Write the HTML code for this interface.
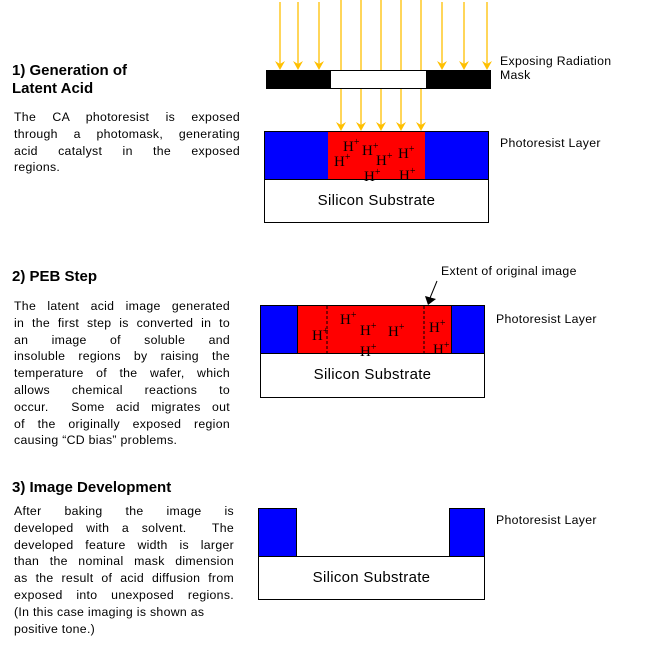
<!DOCTYPE html>
<html><head><meta charset="utf-8"><style>
body{margin:0;width:649px;height:649px;background:#fff;position:relative;overflow:hidden;font-family:"Liberation Sans",sans-serif;color:#000}
.h{position:absolute;font-size:15px;font-weight:bold;left:12px;line-height:18px}
.p{position:absolute;left:14px;width:226px;font-size:12.3px;line-height:16.8px;letter-spacing:0.3px}
.p div{text-align:justify;text-align-last:justify;white-space:nowrap;height:16.8px}
.p div.l{text-align-last:left}
.lb{position:absolute;font-size:12.3px;line-height:14px;letter-spacing:0.3px}
.b{position:absolute;box-sizing:border-box}
.hp{position:absolute;font-family:"Liberation Serif",serif;font-size:15px;line-height:15px}
.hp sup{font-size:10px;vertical-align:6px}
.sub{font-size:15px;text-align:center;line-height:43px;letter-spacing:0.3px}
</style></head><body>
<div class="h" style="top:62px">1) Generation of<br>Latent Acid</div>
<div class="p" style="top:109px;width:226px">
<div>The CA photoresist is exposed</div><div>through a photomask, generating</div><div>acid catalyst in the exposed</div><div class="l">regions.</div></div>
<div class="h" style="top:268px">2) PEB Step</div>
<div class="p" style="top:298px;width:216px">
<div>The latent acid image generated</div><div>in the first step is converted in to</div><div>an image of soluble and</div><div>insoluble regions by raising the</div><div>temperature of the wafer, which</div><div>allows chemical reactions to</div><div>occur. &nbsp;Some acid migrates out</div><div>of the originally exposed region</div><div class="l">causing “CD bias” problems.</div></div>
<div class="h" style="top:479px">3) Image Development</div>
<div class="p" style="top:503px;width:220px">
<div>After baking the image is</div><div>developed with a solvent. &nbsp;The</div><div>developed feature width is larger</div><div>than the nominal mask dimension</div><div>as the result of acid diffusion from</div><div>exposed into unexposed regions.</div><div class="l">(In this case imaging is shown as</div><div class="l">positive tone.)</div></div>

<svg width="649" height="649" style="position:absolute;left:0;top:0">
<g stroke="#ffc000" stroke-width="1.3">
<line x1="280" y1="2" x2="280" y2="66"/><line x1="298" y1="2" x2="298" y2="66"/><line x1="319" y1="2" x2="319" y2="66"/>
<line x1="442" y1="2" x2="442" y2="66"/><line x1="464" y1="2" x2="464" y2="66"/><line x1="487" y1="2" x2="487" y2="66"/>
<line x1="341" y1="0" x2="341" y2="126"/><line x1="361" y1="0" x2="361" y2="126"/><line x1="381" y1="0" x2="381" y2="126"/><line x1="401" y1="0" x2="401" y2="126"/><line x1="421" y1="0" x2="421" y2="126"/>
</g>
<g fill="#ffc000">
<path d="M275,61 L280,70 L285,61 L280,64Z"/><path d="M293,61 L298,70 L303,61 L298,64Z"/><path d="M314,61 L319,70 L324,61 L319,64Z"/>
<path d="M437,61 L442,70 L447,61 L442,64Z"/><path d="M459,61 L464,70 L469,61 L464,64Z"/><path d="M482,61 L487,70 L492,61 L487,64Z"/>
<path d="M336,122 L341,131 L346,122 L341,125Z"/><path d="M356,122 L361,131 L366,122 L361,125Z"/><path d="M376,122 L381,131 L386,122 L381,125Z"/><path d="M396,122 L401,131 L406,122 L401,125Z"/><path d="M416,122 L421,131 L426,122 L421,125Z"/>
</g>
<rect x="266" y="70" width="225" height="19" fill="#000"/><rect x="331" y="71" width="95" height="17" fill="#fff"/>
<rect x="264.5" y="131.5" width="224" height="48" fill="#0000ff" stroke="#000"/><rect x="328" y="132" width="97" height="47" fill="#f00"/>
<rect x="264.5" y="179.5" width="224" height="43" fill="#fff" stroke="#000"/>
<rect x="260.5" y="305.5" width="224" height="48" fill="#0000ff" stroke="#000"/><rect x="297.5" y="305.5" width="154" height="48" fill="#f00" stroke="#000"/>
<line x1="327" y1="306" x2="327" y2="353" stroke="#000" stroke-dasharray="3,2"/><line x1="424" y1="306" x2="424" y2="353" stroke="#000" stroke-dasharray="3,2"/>
<rect x="260.5" y="353.5" width="224" height="44" fill="#fff" stroke="#000"/>
<line x1="437" y1="281" x2="430" y2="298" stroke="#000"/><path d="M425,296 L428,305 L436,299Z" fill="#000"/>
<rect x="258.5" y="508.5" width="38" height="48" fill="#0000ff" stroke="#000"/><rect x="449.5" y="508.5" width="35" height="48" fill="#0000ff" stroke="#000"/>
<rect x="258.5" y="556.5" width="226" height="43" fill="#fff" stroke="#000"/>
</svg>
<div class="b sub" style="left:264px;top:179px;width:225px">Silicon Substrate</div>
<div class="b sub" style="left:260px;top:353px;width:225px">Silicon Substrate</div>
<div class="b sub" style="left:258px;top:556px;width:227px">Silicon Substrate</div>
<div class="hp" style="left:343px;top:135px">H<sup>+</sup></div>
<div class="hp" style="left:334px;top:150px">H<sup>+</sup></div>
<div class="hp" style="left:362px;top:139px">H<sup>+</sup></div>
<div class="hp" style="left:376px;top:149px">H<sup>+</sup></div>
<div class="hp" style="left:398px;top:142px">H<sup>+</sup></div>
<div class="hp" style="left:364px;top:165px">H<sup>+</sup></div>
<div class="hp" style="left:399px;top:164px">H<sup>+</sup></div>
<div class="hp" style="left:312px;top:324px">H<sup>+</sup></div>
<div class="hp" style="left:340px;top:308px">H<sup>+</sup></div>
<div class="hp" style="left:360px;top:319px">H<sup>+</sup></div>
<div class="hp" style="left:388px;top:320px">H<sup>+</sup></div>
<div class="hp" style="left:429px;top:316px">H<sup>+</sup></div>
<div class="hp" style="left:360px;top:340px">H<sup>+</sup></div>
<div class="hp" style="left:433px;top:338px">H<sup>+</sup></div>
<div class="lb" style="left:500px;top:54px">Exposing Radiation<br>Mask</div>
<div class="lb" style="left:500px;top:136px">Photoresist Layer</div>
<div class="lb" style="left:441px;top:264px">Extent of original image</div>
<div class="lb" style="left:496px;top:312px">Photoresist Layer</div>
<div class="lb" style="left:496px;top:513px">Photoresist Layer</div>
</body></html>
